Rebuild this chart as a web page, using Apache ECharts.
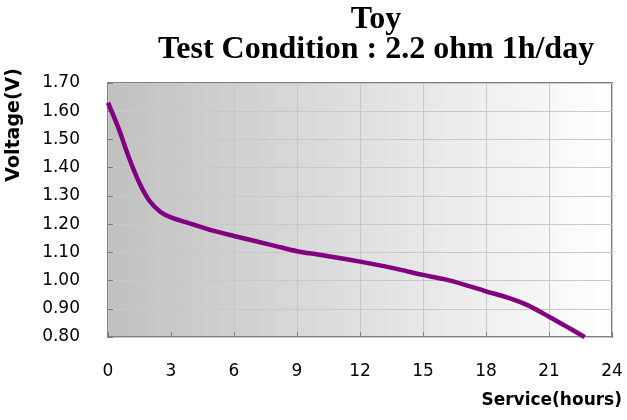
<!DOCTYPE html>
<html>
<head>
<meta charset="utf-8">
<script src="https://cdn.jsdelivr.net/npm/echarts@6/dist/echarts.min.js"></script>
<style>html,body{margin:0;padding:0;background:#fff;}#c{width:627px;height:420px;}</style>
</head>
<body>
<div id="c"></div>
<script>
const titleLine1 = "Toy";
const titleLine2 = "Test Condition : 2.2 ohm 1h/day";
const xName = "Service(hours)";
const yName = "Voltage(V)";
const hours =   [0, 0.5, 1, 1.5, 2, 2.5, 3, 4, 5, 6, 7, 8, 9, 10, 11, 12, 13, 14, 15, 16, 17, 18, 19, 20, 21, 22, 22.7];
const voltage = [1.63, 1.54, 1.435, 1.345, 1.28, 1.243, 1.224, 1.20, 1.177, 1.158, 1.14, 1.122, 1.104, 1.092, 1.08, 1.067, 1.053, 1.037, 1.02, 1.005, 0.985, 0.962, 0.94, 0.912, 0.872, 0.83, 0.80];

const chart = echarts.init(document.getElementById('c'));
chart.setOption({
  animation: false,
  title: [
    { text: titleLine1, left: 376, top: 4, padding: 0, textAlign: 'center',
      textStyle: { fontFamily: 'Liberation Serif', fontWeight: 'bold', fontSize: 32, color: '#000' } },
    { text: titleLine2, left: 376, top: 34, padding: 0, textAlign: 'center',
      textStyle: { fontFamily: 'Liberation Serif', fontWeight: 'bold', fontSize: 32, color: '#000' } }
  ],
  grid: {
    left: 108, right: 15, top: 83, bottom: 83,
    show: true,
    borderColor: '#808080', borderWidth: 2,
    backgroundColor: new echarts.graphic.LinearGradient(0, 0, 1, 0, [
      { offset: 0, color: '#c0c0c0' }, { offset: 1, color: '#ffffff' }
    ])
  },
  xAxis: {
    type: 'value', min: 0, max: 24, interval: 3,
    axisLine: { show: false },
    axisTick: { show: true, inside: true, length: 5, lineStyle: { color: '#808080' } },
    splitLine: { show: true, lineStyle: { color: '#c8c8c8', width: 1 } },
    axisLabel: { margin: 26, fontFamily: 'DejaVu Sans', fontSize: 17, color: '#000' }
  },
  yAxis: {
    type: 'value', min: 0.8, max: 1.7, interval: 0.1,
    axisLine: { show: false },
    axisTick: { show: true, inside: true, length: 5, lineStyle: { color: '#808080' } },
    splitLine: { show: true, lineStyle: { color: '#c8c8c8', width: 1 } },
    axisLabel: { margin: 28, fontFamily: 'DejaVu Sans', fontSize: 17, color: '#000',
      formatter: v => v.toFixed(2) }
  },
  graphic: [
    { type: 'text', left: 5, top: 68, rotation: Math.PI / 2, originX: 0, originY: 0,
      style: { text: yName, fontFamily: 'DejaVu Sans', fontWeight: 'bold', fontSize: 19, fill: '#000' } },
    { type: 'text', right: 5, top: 392,
      style: { text: xName, fontFamily: 'DejaVu Sans', fontWeight: 'bold', fontSize: 17, fill: '#000' } }
  ],
  series: [{
    type: 'line', smooth: 0.3, showSymbol: false,
    data: hours.map((h, i) => [h, voltage[i]]),
    lineStyle: { color: '#800080', width: 4.5 },
    clip: true
  }]
});
</script>
</body>
</html>
